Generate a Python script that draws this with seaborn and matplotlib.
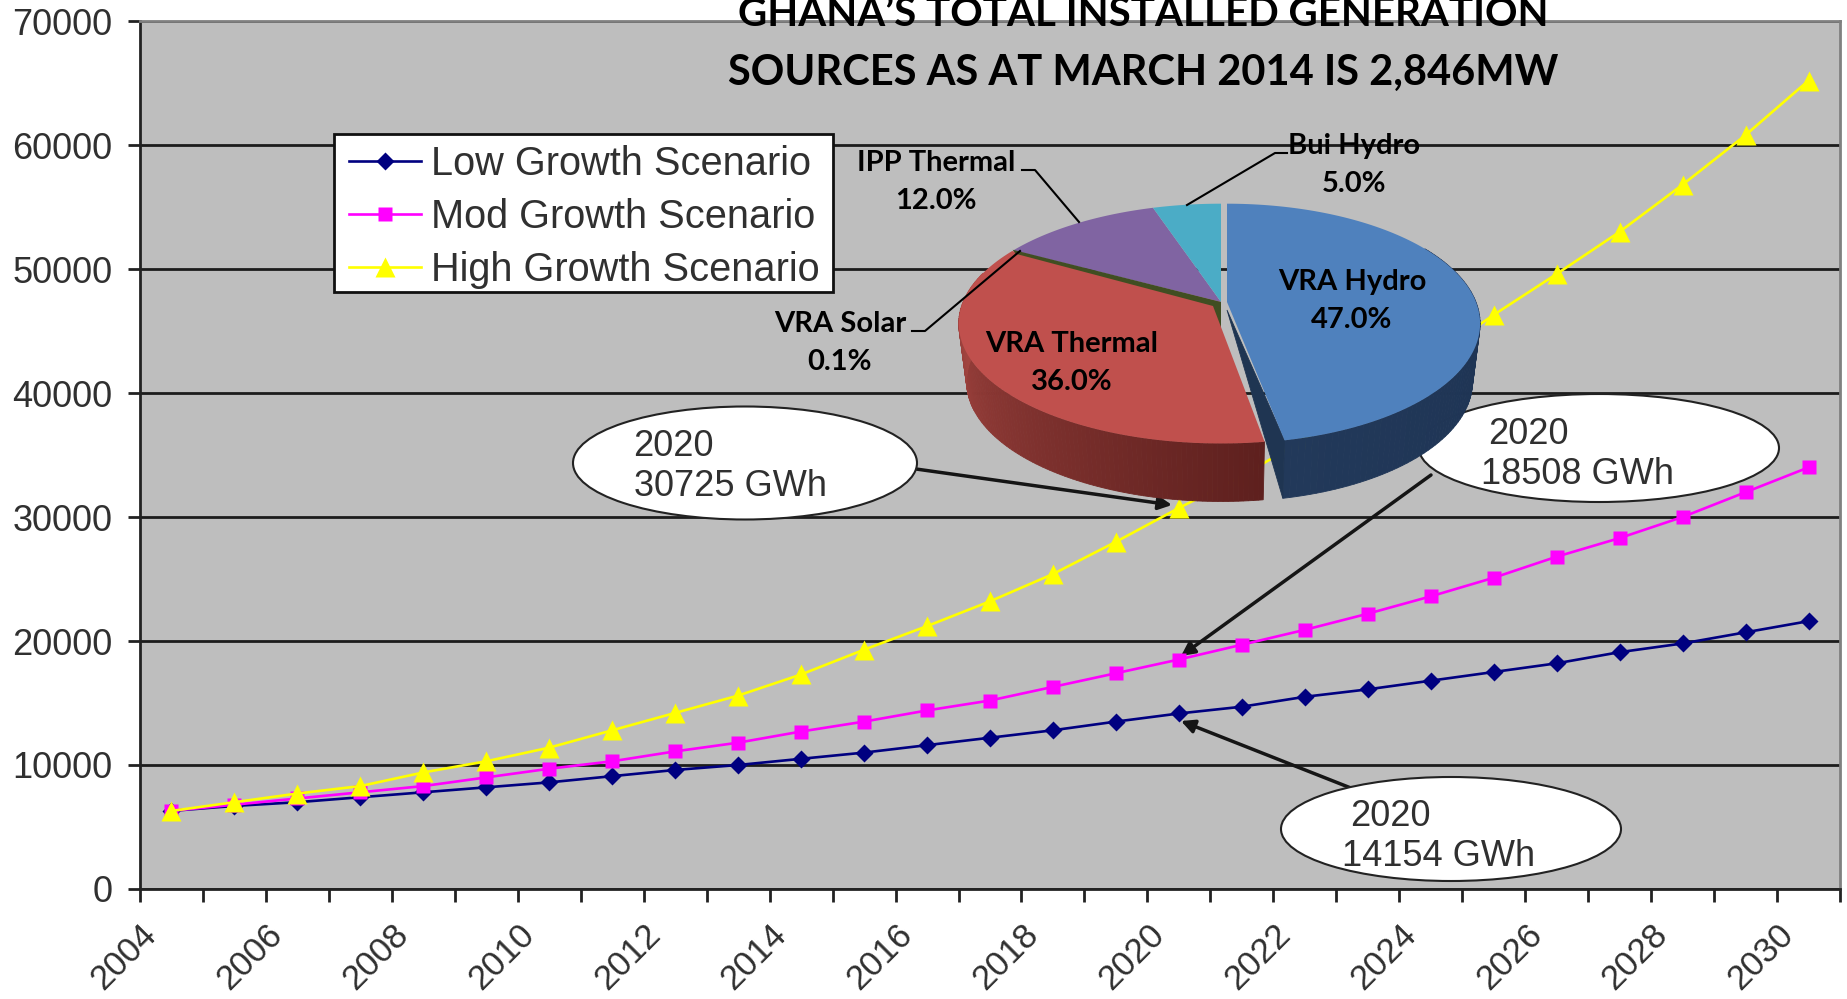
import numpy as np
import pandas as pd
import seaborn as sns
import matplotlib
matplotlib.use("Agg")
import matplotlib.pyplot as plt
from matplotlib.patches import Polygon, Ellipse, Rectangle
from matplotlib.colors import to_rgb

years = np.arange(2004, 2031) + 0.5
low = [6300, 6700, 7000, 7400, 7800, 8200, 8600, 9100, 9600, 10000, 10500, 11000, 11600, 12200,
       12800, 13500, 14154, 14700, 15500, 16100, 16800, 17500, 18200, 19100, 19800, 20700, 21600]
mod = [6300, 6800, 7300, 7800, 8300, 9000, 9700, 10300, 11100, 11800, 12700, 13500, 14400, 15200,
       16300, 17400, 18508, 19700, 20900, 22200, 23600, 25100, 26800, 28300, 30000, 32000, 34000]
high = [6300, 7000, 7700, 8300, 9400, 10300, 11400, 12800, 14200, 15600, 17300, 19300, 21200, 23200,
        25400, 28000, 30725, 33300, 36300, 39400, 42800, 46300, 49600, 53000, 56800, 60800, 65200]
series_names = ["Low Growth Scenario", "Mod Growth Scenario", "High Growth Scenario"]
pie_names = ["VRA Hydro", "VRA Thermal", "VRA Solar", "IPP Thermal", "Bui Hydro"]
pie_values = [47.0, 36.0, 0.1, 12.0, 5.0]
title_lines = ["GHANA\u2019S TOTAL INSTALLED GENERATION", "SOURCES AS AT MARCH 2014 IS 2,846MW"]

W, H = 1847, 999
sans = "Liberation Sans"
cal = "Lato"
df = pd.DataFrame({
    "year": np.tile(years, 3),
    "value": low + mod + high,
    "series": np.repeat(series_names, len(years)),
})

fig = plt.figure(figsize=(W / 100, H / 100), dpi=100, facecolor="white")
L, R, T, B = 140, 1840, 21, 889
ax = fig.add_axes([L / W, 1 - B / H, (R - L) / W, (B - T) / H])
ov = fig.add_axes([0, 0, 1, 1], facecolor="none")
ov.set_xlim(0, W)
ov.set_ylim(H, 0)
ov.axis("off")

ax.set_facecolor("#BEBEBE")
ax.set_axisbelow(True)
ax.grid(axis="y", color="#1c1c1c", lw=2)
palette = dict(zip(series_names, ["#000080", "#FF00FF", "#FFFF00"]))
markers = dict(zip(series_names, ["D", "s", "^"]))
sns.lineplot(data=df, x="year", y="value", hue="series", style="series", palette=palette,
             markers=markers, dashes=False, lw=1.9, ms=10, mec="none", ax=ax, sort=False, errorbar=None)
for line in ax.get_lines():
    line.set_markersize({"D": 9, "s": 9.5, "^": 14}.get(line.get_marker(), 10))
ax.set_xlim(2004, 2031)
ax.set_ylim(0, 70000)
ax.set_xlabel("")
ax.set_ylabel("")
ax.set_yticks(np.arange(0, 70001, 10000))
ax.set_xticks(np.arange(2004, 2032))
ax.set_xticklabels([str(y) if y % 2 == 0 else "" for y in range(2004, 2032)], rotation=45,
                   ha="right", rotation_mode="anchor", fontsize=25, family=sans, color="#303030")
ax.tick_params(axis="x", length=9, width=2, color="#222222", pad=12)
ax.tick_params(axis="y", length=9, width=2, color="#222222", pad=11, labelsize=26, labelcolor="#303030")
for t in ax.get_yticklabels():
    t.set_family(sans)
for s in ["left", "bottom"]:
    ax.spines[s].set_color("#222222")
    ax.spines[s].set_linewidth(2)
for s in ["top", "right"]:
    ax.spines[s].set_color("#808080")
    ax.spines[s].set_linewidth(2)

# legend box is drawn separately so it keeps the wider margins of the original
ax.add_patch(Rectangle((334, 134), 499, 158, transform=ov.transData, fc="white", ec="#111111", lw=2,
                       zorder=4.5, clip_on=False))
leg = ax.legend(loc="upper left", bbox_to_anchor=((340 - L) / (R - L), 1 - (136 - T) / (B - T)),
                frameon=False, prop={"family": sans, "size": 28.6}, labelcolor="#303030", borderaxespad=0,
                handlelength=1.81, handletextpad=0.25, labelspacing=0.38, borderpad=0.23)

# callouts: below the series lines, above the grid
def callout(cx, cy, w, h, lines, start, end):
    ax.add_patch(Ellipse((cx, cy), w, h, transform=ov.transData, fc="white", ec="#222222", lw=1.5,
                         zorder=1.6, clip_on=False))
    for tx, ty, txt in lines:
        ax.text(tx, ty, txt, transform=ov.transData, family=sans, fontsize=26, color="#303030",
                va="center", zorder=1.7, clip_on=False)
    ax.annotate("", xy=end, xytext=start, xycoords=ov.transData, textcoords=ov.transData, zorder=1.5,
                annotation_clip=False,
                arrowprops=dict(arrowstyle="-|>", color="#151515", lw=2.5, mutation_scale=20,
                                shrinkA=0, shrinkB=0))

callout(745, 463, 344, 113, [(633, 447, "2020"), (634, 487, "30725 GWh")], (916, 469), (1172, 505))
callout(1599, 448, 360, 108, [(1488, 434, "2020"), (1481, 474, "18508 GWh")], (1431, 475), (1181, 656))
callout(1451, 829, 340, 104, [(1350, 816, "2020"), (1342, 857, "14154 GWh")], (1361, 792), (1181, 721))

# 3-D pie built from the share values
ax0, ay0 = 1221, 302
a_, b_, c_ = 0.18, 116, 258
depth, shrink = 58, 0.97

def rim(theta_deg, r=1.0):
    th = np.radians(theta_deg)
    u, v = np.sin(th), np.cos(th)
    d = 1 + a_ * v
    return c_ * r * u / d, -b_ * v / d

shares = np.array(pie_values) / sum(pie_values) * 360
edges = np.concatenate([[0], np.cumsum(shares)])
top_cols = ["#4F81BD", "#C0504D", "#404E22", "#8064A2", "#4BACC6"]
radii = [0.965, 1, 1, 1, 1]
off = [6, 0, 0, 0, 0]
gap = [0, 3, 0, 0, 0]

def mix(c1, c2, t):
    c1, c2 = np.array(to_rgb(c1)), np.array(to_rgb(c2))
    return tuple(c1 + (c2 - c1) * t)

z = 10
# side walls: blue first, then red on top of it
t0, t1 = edges[0], edges[1]
th = np.linspace(max(t0, 60), t1, 80)
for p, q in zip(th[:-1], th[1:]):
    x1, y1 = rim(p, radii[0]); x2, y2 = rim(q, radii[0])
    pts = [(ax0 + off[0] + x1, ay0 + y1), (ax0 + off[0] + x2, ay0 + y2),
           (ax0 + off[0] + x2 * shrink, ay0 + y2 + depth), (ax0 + off[0] + x1 * shrink, ay0 + y1 + depth)]
    c = mix("#1C3150", "#22395A", (q - 60) / 110)
    ov.add_patch(Polygon(pts, fc=c, ec=c, lw=0.6, zorder=z))
xe, ye = rim(t1, radii[0])
ov.add_patch(Polygon([(ax0 + off[0], ay0 + 8), (ax0 + off[0] + xe, ay0 + ye),
                      (ax0 + off[0] + xe * shrink, ay0 + ye + depth)], fc="#1F3552", ec="#1F3552", lw=0.6, zorder=z))
z += 1
t0, t1 = edges[1] + gap[1], edges[2]
th = np.linspace(t0, min(t1, 285), 120)
for i, (p, q) in enumerate(zip(th[:-1], th[1:])):
    x1, y1 = rim(p); x2, y2 = rim(q)
    pts = [(ax0 + x1, ay0 + y1), (ax0 + x2, ay0 + y2),
           (ax0 + x2 * shrink, ay0 + y2 + depth), (ax0 + x1 * shrink, ay0 + y1 + depth)]
    c = mix("#5E201E", "#AD4A45", i / 118)
    ov.add_patch(Polygon(pts, fc=c, ec=c, lw=0.6, zorder=z))
z += 1
# top faces
for k, col in enumerate(top_cols):
    if k == 2:
        continue
    t0, t1 = edges[k] + gap[k], edges[k + 1]
    th = np.linspace(t0, t1, 120)
    rimpts = [(ax0 + off[k] + rim(t, radii[k])[0], ay0 + rim(t, radii[k])[1]) for t in th]
    apex = [(ax0 + off[k], ay0)]
    if k == 1:
        apex = [(ax0, ay0), (ax0, ay0 + 25)]
    ov.add_patch(Polygon(apex + rimpts, fc=col, ec="none", zorder=z))
# the very thin solar slice, widened so that it stays visible
sx, sy = rim(edges[2] + shares[2] / 2)
ov.add_patch(Polygon([(ax0 + sx, ay0 + sy - 1), (ax0, ay0), (ax0, ay0 + 25), (ax0 - 8, ay0 + 4),
                      (ax0 + sx + 3, ay0 + sy + 3)], fc=top_cols[2], ec="none", zorder=z + 1))

# pie labels
def lab(x, y, name, val):
    ov.text(x, y, f"{name}\n{val:.1f}%", family=cal, weight="bold", fontsize=21, ha="center", va="center",
            color="black", linespacing=1.55, zorder=z + 3)

lab(1352, 301, pie_names[0], pie_values[0])
lab(1072, 363, pie_names[1], pie_values[1])
lab(840, 343, pie_names[2], pie_values[2])
lab(936, 182, pie_names[3], pie_values[3])
lab(1354, 165, pie_names[4], pie_values[4])
for xs, ys in [([1287, 1275, 1187], [153, 153, 205]),
               ([1022, 1035, 1079], [170, 170, 222]),
               ([912, 925, 1020], [331, 331, 251])]:
    ov.plot(xs, ys, color="black", lw=1.5, zorder=z + 2)

# title, slightly clipped by the top of the image as in the original
ov.text(1143, 26, title_lines[0], family=cal, weight="bold", fontsize=29, ha="center", va="baseline", color="black", zorder=z + 3)
ov.text(1143, 85, title_lines[1], family=cal, weight="bold", fontsize=30, ha="center", va="baseline", color="black", zorder=z + 3)

fig.savefig("out.png", dpi=100)
